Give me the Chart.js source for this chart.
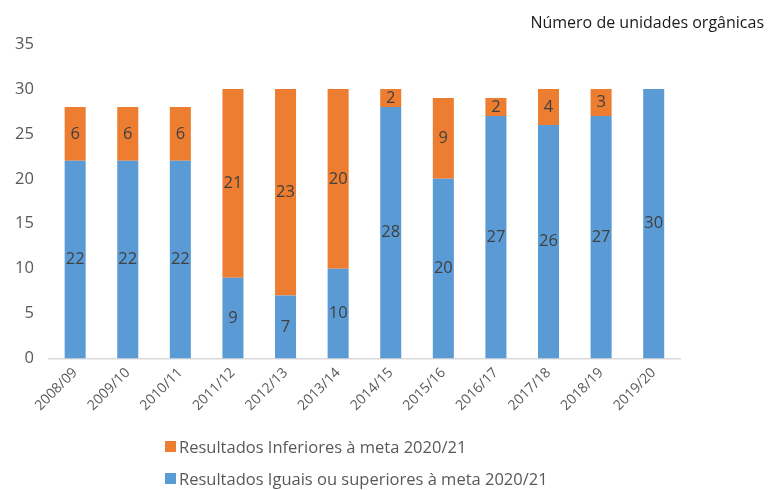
<!DOCTYPE html>
<html>
<head>
<meta charset="utf-8">
<script src="https://cdn.jsdelivr.net/npm/chart.js@4/dist/chart.umd.min.js"></script>
<style>
  html, body { margin: 0; padding: 0; background: #fff; }
  #wrap { position: relative; width: 769px; height: 490px; font-family: "Open Sans", sans-serif; }
  #title { position: absolute; right: 5px; top: 11px; font-size: 16px; color: #1a1a1a; }
  #legend { position: absolute; left: 165px; top: 430px; font-size: 16.5px; color: #595959; }
  .li { display: flex; align-items: center; height: 32px; }
  .sw { width: 11px; height: 11px; margin-right: 3px; }
</style>
</head>
<body>
<div id="wrap">
  <canvas id="c" width="769" height="490"></canvas>
  <div id="title">Número de unidades orgânicas</div>
  <div id="legend"></div>
</div>
<script>
const categories = ["2008/09","2009/10","2010/11","2011/12","2012/13","2013/14","2014/15","2015/16","2016/17","2017/18","2018/19","2019/20"];
const iguaisSuperiores = [22,22,22,9,7,10,28,20,27,26,27,30];
const inferiores = [6,6,6,21,23,20,2,9,2,4,3,0];
const yTicks = [0,5,10,15,20,25,30,35];

const BLUE = "#5b9bd5", ORANGE = "#ed7d31";

const valueLabels = {
  id: "valueLabels",
  afterDatasetsDraw(chart) {
    const ctx = chart.ctx;
    ctx.save();
    ctx.font = '16.5px "Open Sans", sans-serif';
    ctx.fillStyle = "#404040";
    ctx.textAlign = "center";
    ctx.textBaseline = "middle";
    chart.data.datasets.forEach((ds, di) => {
      const meta = chart.getDatasetMeta(di);
      meta.data.forEach((bar, i) => {
        const v = ds.data[i];
        if (!v) return;
        const p = bar.getProps(["x","y","base"], true);
        ctx.fillText(String(v), p.x, (p.y + p.base) / 2);
      });
    });
    ctx.restore();
  }
};

const chart = new Chart(document.getElementById("c"), {
  type: "bar",
  data: {
    labels: categories,
    datasets: [
      { label: "Resultados Iguais ou superiores à meta 2020/21", data: iguaisSuperiores, backgroundColor: BLUE, categoryPercentage: 1, barPercentage: 0.4 },
      { label: "Resultados Inferiores à meta 2020/21", data: inferiores, backgroundColor: ORANGE, categoryPercentage: 1, barPercentage: 0.4 }
    ]
  },
  options: {
    responsive: false,
    animation: false,
    layout: { padding: { top: 44, right: 89, bottom: 70, left: 0 } },
    plugins: { legend: { display: false }, tooltip: { enabled: false } },
    scales: {
      x: {
        stacked: true,
        grid: { display: false, drawTicks: false },
        border: { color: "#d9d9d9", width: 1.5 },
        ticks: { color: "#595959", font: { family: "Open Sans", size: 14 }, maxRotation: 45, minRotation: 45, padding: 6 }
      },
      y: {
        stacked: true,
        min: 0, max: 35,
        afterBuildTicks(s) { s.ticks = yTicks.map(v => ({ value: v })); },
        grid: { display: false, drawTicks: false },
        border: { display: false },
        ticks: { color: "#595959", font: { family: "Open Sans", size: 16.5 }, padding: 15 }
      }
    }
  },
  plugins: [valueLabels]
});

const legend = document.getElementById("legend");
[chart.data.datasets[1], chart.data.datasets[0]].forEach(ds => {
  const d = document.createElement("div");
  d.className = "li";
  d.innerHTML = '<span class="sw" style="background:' + ds.backgroundColor + '"></span><span>' + ds.label + '</span>';
  legend.appendChild(d);
});
</script>
</body>
</html>
